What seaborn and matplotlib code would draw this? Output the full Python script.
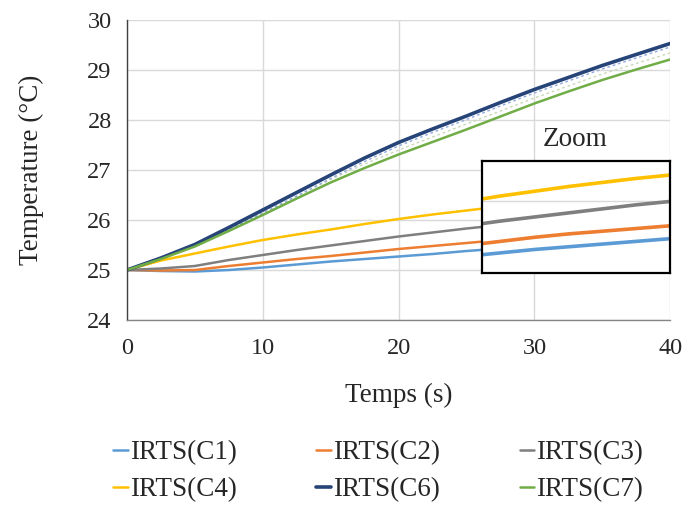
import numpy as np
import pandas as pd
import matplotlib
matplotlib.use("Agg")
import matplotlib.pyplot as plt
import seaborn as sns

# ---- data ----
time_s = [0, 2.5, 5, 7.5, 10, 12.5, 15, 17.5, 20, 22.5, 25, 27.5, 30, 32.5, 35, 37.5, 40]
c1 = [25.00, 24.98, 24.97, 25.00, 25.05, 25.11, 25.17, 25.22, 25.27, 25.32, 25.38, 25.43, 25.48, 25.52, 25.56, 25.60, 25.64]
c2 = [25.00, 24.99, 25.00, 25.08, 25.15, 25.22, 25.28, 25.35, 25.42, 25.48, 25.54, 25.60, 25.66, 25.71, 25.75, 25.79, 25.83]
c3 = [25.00, 25.03, 25.08, 25.20, 25.30, 25.40, 25.49, 25.58, 25.67, 25.75, 25.83, 25.90, 25.96, 26.02, 26.08, 26.14, 26.19]
c4 = [25.00, 25.19, 25.33, 25.47, 25.60, 25.71, 25.81, 25.92, 26.02, 26.11, 26.19, 26.27, 26.34, 26.41, 26.47, 26.53, 26.58]
c6 = [25.00, 25.24, 25.51, 25.85, 26.20, 26.55, 26.90, 27.24, 27.55, 27.82, 28.08, 28.35, 28.61, 28.85, 29.09, 29.31, 29.53]
c7 = [25.00, 25.22, 25.47, 25.78, 26.10, 26.43, 26.75, 27.04, 27.31, 27.56, 27.81, 28.07, 28.33, 28.57, 28.80, 29.01, 29.21]
# faint companion traces (dotted) around the C6 / C7 curves
c6_trace = [25.00, 25.22, 25.48, 25.80, 26.14, 26.48, 26.83, 27.17, 27.48, 27.75, 28.01, 28.28, 28.54, 28.78, 29.02, 29.24, 29.46]
c7_trace = [25.00, 25.23, 25.49, 25.81, 26.14, 26.47, 26.81, 27.12, 27.40, 27.66, 27.92, 28.18, 28.44, 28.68, 28.92, 29.13, 29.34]
series_names = ["IRTS(C1)", "IRTS(C2)", "IRTS(C3)", "IRTS(C4)", "IRTS(C6)", "IRTS(C7)"]
x_ticks = [0, 10, 20, 30, 40]
y_ticks = [24, 25, 26, 27, 28, 29, 30]

colors = ["#5B9BD5", "#ED7D31", "#7F7F7F", "#FFC000", "#264478", "#70AD47"]
widths = [1.8, 1.8, 1.8, 1.8, 2.6, 1.8]

df = pd.DataFrame({"t": time_s, "IRTS(C1)": c1, "IRTS(C2)": c2, "IRTS(C3)": c3,
                   "IRTS(C4)": c4, "IRTS(C6)": c6, "IRTS(C7)": c7})
long = df.melt(id_vars="t", var_name="series", value_name="T")

sns.set_style("white")
plt.rcParams["font.family"] = ["Liberation Serif", "DejaVu Serif"]

fig = plt.figure(figsize=(6.86, 5.07), dpi=100)
ax = fig.add_axes([0.185, 0.3688, 0.792, 0.5918])

# faint dotted traces under the main curves
sns.lineplot(x=time_s, y=c7_trace, ax=ax, color="#C9D9B8", lw=1.0, ls=(0, (2, 2)), legend=False)
sns.lineplot(x=time_s, y=c6_trace, ax=ax, color="#8FAADC", lw=1.0, ls=(0, (2, 2)), legend=False)

palette = dict(zip(series_names, colors))
for name, lw in zip(series_names, widths):
    sub = long[long["series"] == name]
    sns.lineplot(data=sub, x="t", y="T", ax=ax, color=palette[name], lw=lw, label=name)

ax.set_xlim(0, 40)
ax.set_ylim(24, 30)
ax.set_xticks(x_ticks)
ax.set_yticks(y_ticks)
ax.grid(True, color="#D9D9D9", lw=1.0)
ax.set_axisbelow(True)
for s in ["top", "right"]:
    ax.spines[s].set_visible(False)
ax.spines["left"].set_color("#404040")
ax.spines["bottom"].set_color("#868686")
ax.spines["left"].set_linewidth(1.0)
ax.spines["bottom"].set_linewidth(1.0)
ax.tick_params(axis="both", direction="out", length=8, width=1.0, labelsize=17.5, pad=5)
ax.tick_params(axis="y", color="#404040", pad=3)
ax.tick_params(axis="x", color="#868686")
ax.set_xlabel("Temps (s)", fontsize=19.5, labelpad=17)
ax.set_ylabel("Temperature (°C)", fontsize=19.5, labelpad=31)

handles, labels = ax.get_legend_handles_labels()
order = [0, 3, 1, 4, 2, 5]
leg = fig.legend([handles[i] for i in order], [labels[i] for i in order],
                 loc="center", bbox_to_anchor=(0.551, 0.07), ncol=3, frameon=False,
                 fontsize=19.5, handlelength=0.55, handletextpad=0.05, columnspacing=2.95,
                 labelspacing=0.45)
ax.get_legend().remove()

# inset zoom
x0 = 26.15
inset = ax.inset_axes([x0, 24.95, 40 - x0, 2.22], transform=ax.transData)
for name in series_names[:4]:
    sub = long[(long["series"] == name)]
    sns.lineplot(data=sub, x="t", y="T", ax=inset, color=palette[name], lw=2.6, legend=False)
inset.set_xlim(x0, 40)
inset.set_ylim(25.14, 26.78)
inset.set_xticks([])
inset.set_yticks([26.2])
inset.tick_params(left=False, labelleft=False)
inset.grid(True, axis="y", color="#D9D9D9", lw=1.0)
inset.set_xlabel("")
inset.set_ylabel("")
inset.set_facecolor("white")
for s in inset.spines.values():
    s.set_color("black")
    s.set_linewidth(1.6)
ax.text(33.0, 27.6, "Zoom", fontsize=19.5, ha="center", va="center")

fig.savefig("out.png", dpi=100)
